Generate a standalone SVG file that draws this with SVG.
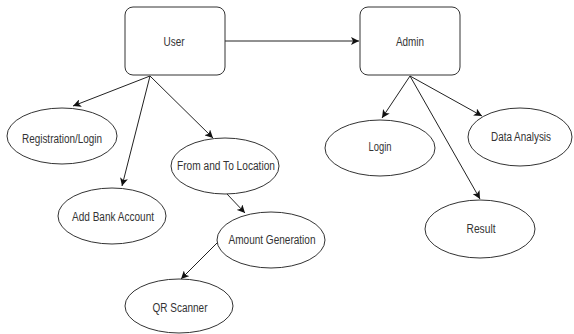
<svg xmlns="http://www.w3.org/2000/svg" width="574" height="334" viewBox="0 0 574 334">
  <style>
    .box { fill: #ffffff; stroke: #333333; stroke-width: 1; }
    .oval { fill: #ffffff; stroke: #333333; stroke-width: 1; }
    .lbl { font-family: "Liberation Sans", Arial, sans-serif; font-size: 12.5px; fill: #333333; text-anchor: middle; }
    .edge { fill: none; stroke: #222222; stroke-width: 1; marker-end: url(#arrow); }
  </style>
  <defs>
    <marker id="arrow" markerUnits="userSpaceOnUse" markerWidth="10" markerHeight="8" refX="8" refY="4" orient="auto">
      <path d="M0,0 L8,4 L0,8 L2,4 z" fill="#111111"/>
    </marker>
  </defs>
  <rect width="574" height="334" fill="#ffffff"/>

  <g id="connectors">
    <line class="edge" x1="225" y1="41" x2="359" y2="41"/>
    <line class="edge" x1="150" y1="76" x2="73" y2="106"/>
    <line class="edge" x1="150" y1="76" x2="122" y2="186"/>
    <line class="edge" x1="150" y1="76" x2="213" y2="138"/>
    <line class="edge" x1="227" y1="194" x2="245" y2="213"/>
    <line class="edge" x1="218" y1="242" x2="181" y2="279"/>
    <line class="edge" x1="410" y1="76" x2="382" y2="118"/>
    <line class="edge" x1="410" y1="76" x2="482" y2="116"/>
    <line class="edge" x1="410" y1="76" x2="480" y2="199"/>
  </g>

  <g id="user">
    <rect class="box" x="125" y="7" width="100" height="68" rx="8"/>
    <text class="lbl" x="174" y="46" textLength="21" lengthAdjust="spacingAndGlyphs">User</text>
  </g>
  <g id="admin">
    <rect class="box" x="360" y="7" width="100" height="68" rx="8"/>
    <text class="lbl" x="410" y="46" textLength="28" lengthAdjust="spacingAndGlyphs">Admin</text>
  </g>
  <g id="registration-login">
    <ellipse class="oval" cx="62" cy="136" rx="55" ry="28"/>
    <text class="lbl" x="62" y="143" textLength="80" lengthAdjust="spacingAndGlyphs">Registration/Login</text>
  </g>
  <g id="from-to-location">
    <ellipse class="oval" cx="225" cy="166" rx="54" ry="28"/>
    <text class="lbl" x="226" y="170" textLength="98" lengthAdjust="spacingAndGlyphs">From and To Location</text>
  </g>
  <g id="add-bank-account">
    <ellipse class="oval" cx="112" cy="216" rx="54" ry="28"/>
    <text class="lbl" x="113" y="221" textLength="82" lengthAdjust="spacingAndGlyphs">Add Bank Account</text>
  </g>
  <g id="amount-generation">
    <ellipse class="oval" cx="271" cy="240" rx="54" ry="28"/>
    <text class="lbl" x="272" y="244" textLength="87" lengthAdjust="spacingAndGlyphs">Amount Generation</text>
  </g>
  <g id="qr-scanner">
    <ellipse class="oval" cx="179" cy="306" rx="54" ry="27"/>
    <text class="lbl" x="180" y="312" textLength="55" lengthAdjust="spacingAndGlyphs">QR Scanner</text>
  </g>
  <g id="login">
    <ellipse class="oval" cx="380" cy="148" rx="55" ry="28"/>
    <text class="lbl" x="380" y="151" textLength="23" lengthAdjust="spacingAndGlyphs">Login</text>
  </g>
  <g id="data-analysis">
    <ellipse class="oval" cx="520" cy="137" rx="52" ry="29"/>
    <text class="lbl" x="521" y="141" textLength="60" lengthAdjust="spacingAndGlyphs">Data Analysis</text>
  </g>
  <g id="result">
    <ellipse class="oval" cx="480" cy="229" rx="55" ry="29"/>
    <text class="lbl" x="481" y="233" textLength="29" lengthAdjust="spacingAndGlyphs">Result</text>
  </g>
</svg>
